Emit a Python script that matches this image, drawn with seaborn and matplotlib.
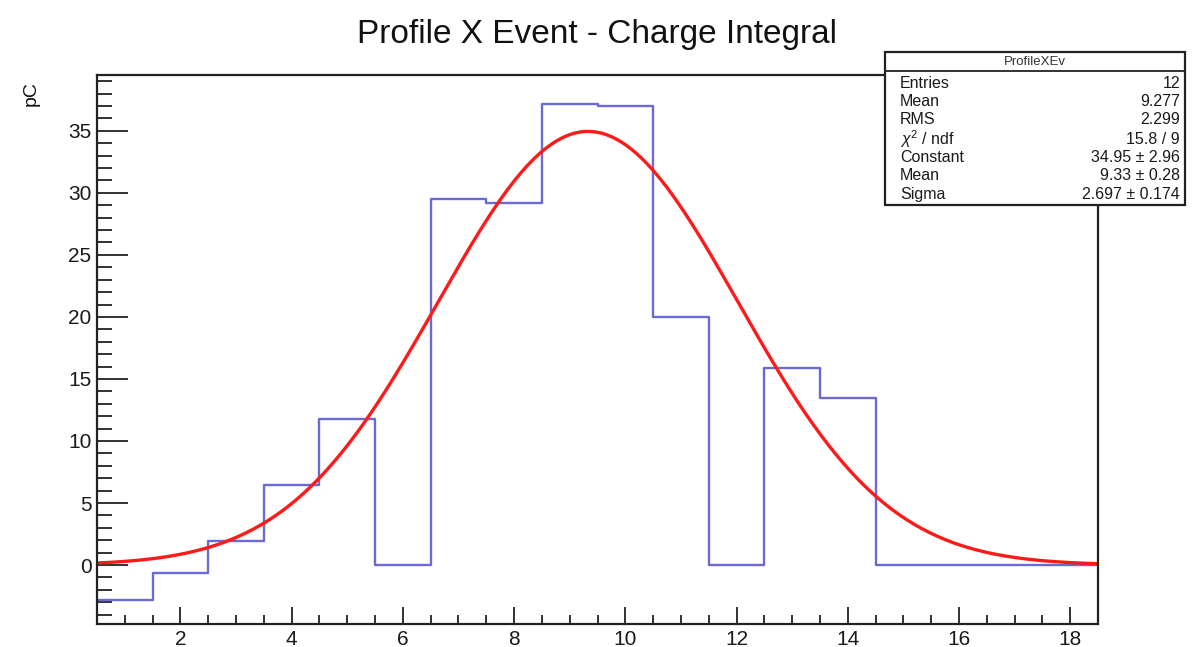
import numpy as np
import pandas as pd
import matplotlib
matplotlib.use("Agg")
import matplotlib.pyplot as plt
from matplotlib.ticker import MultipleLocator
from matplotlib.patches import Rectangle
import seaborn as sns

# ---- data ----
bin_centers = [1, 2, 3, 4, 5, 6, 7, 8, 9, 10, 11, 12, 13, 14, 15, 16, 17, 18]
bin_values = [-2.8, -0.65, 1.95, 6.45, 11.8, 0.0, 29.5, 29.2, 37.2, 37.0,
              20.0, 0.0, 15.9, 13.5, 0.0, 0.0, 0.0, 0.0]
bin_edges = [0.5 + i for i in range(19)]

fit_constant = 34.95
fit_mean = 9.33
fit_sigma = 2.697

title = "Profile X Event - Charge Integral"
y_label = "pC"
stats_title = "ProfileXEv"
stats_labels = ["Entries", "Mean", "RMS", r"$\chi^2$ / ndf", "Constant", "Mean", "Sigma"]
stats_values = ["12", "9.277", "2.299", "15.8 / 9", "34.95 \u00b1 2.96",
                "9.33 \u00b1 0.28", "2.697 \u00b1 0.174"]

sns.set_theme(style="white")
plt.rcParams["font.family"] = ["Liberation Sans", "DejaVu Sans"]
plt.rcParams["mathtext.fontset"] = "custom"
plt.rcParams["mathtext.rm"] = "Liberation Sans"
plt.rcParams["mathtext.it"] = "Liberation Sans:italic"

fig = plt.figure(figsize=(11.92, 6.47), dpi=100)
ax = fig.add_axes([97 / 1192, 23 / 647, (1098 - 97) / 1192, (624 - 75) / 647])

df = pd.DataFrame({"x": bin_centers, "w": bin_values})
sns.histplot(data=df, x="x", weights="w", bins=bin_edges, element="step",
             fill=False, color="#6a6ad2", linewidth=1.7, ax=ax)

xs = np.linspace(0.5, 18.5, 400)
fit_df = pd.DataFrame({"x": xs,
                       "y": fit_constant * np.exp(-0.5 * ((xs - fit_mean) / fit_sigma) ** 2)})
sns.lineplot(data=fit_df, x="x", y="y", color="#ff1a1a", linewidth=2.4, ax=ax)

ax.set_xlim(0.5, 18.5)
ax.set_ylim(-4.75, 39.5)
ax.set_xlabel("")
ax.set_ylabel("")
ax.xaxis.set_major_locator(MultipleLocator(2))
ax.xaxis.set_minor_locator(MultipleLocator(0.5))
ax.yaxis.set_major_locator(MultipleLocator(5))
ax.yaxis.set_minor_locator(MultipleLocator(1))
ax.tick_params(axis="both", which="both", direction="in", top=False, right=False,
               left=True, bottom=True, colors="#222222", labelsize=15, width=1.3)
ax.tick_params(axis="y", which="major", length=22, pad=4)
ax.tick_params(axis="y", which="minor", length=11)
ax.tick_params(axis="x", which="major", length=12.5, pad=4)
ax.tick_params(axis="x", which="minor", length=6.5)
for lbl in ax.get_xticklabels() + ax.get_yticklabels():
    lbl.set_color("#1a1a1a")
for s in ax.spines.values():
    s.set_color("#222222")
    s.set_linewidth(1.6)

fig.text(597 / 1192, 1 - 34 / 647, title, ha="center", va="center", fontsize=24,
         color="#111111")
fig.text(31 / 1192, 1 - 94 / 647, y_label, ha="center", va="center", rotation=90,
         fontsize=14, color="#111111")

# stats box
bx0, bx1, by0, by1 = 885, 1185, 52, 205
box = Rectangle((bx0 / 1192, 1 - by1 / 647), (bx1 - bx0) / 1192, (by1 - by0) / 647,
                transform=fig.transFigure, facecolor="white", edgecolor="#222222",
                linewidth=1.6, zorder=5)
fig.add_artist(box)
fig.add_artist(plt.Line2D([bx0 / 1192, bx1 / 1192], [1 - 71 / 647, 1 - 71 / 647],
                          transform=fig.transFigure, color="#222222", linewidth=1.3, zorder=6))
fig.text((bx0 + bx1) / 2 / 1192, 1 - 62 / 647, stats_title, ha="center", va="center",
         fontsize=9.5, zorder=7, color="#333333")
row_y = [83, 102, 120, 139, 158, 176, 195]
for lab, val, yy in zip(stats_labels, stats_values, row_y):
    fig.text(900 / 1192, 1 - yy / 647, lab, ha="left", va="center", fontsize=11.5,
             zorder=7, color="#1a1a1a")
    fig.text(1180 / 1192, 1 - yy / 647, val, ha="right", va="center", fontsize=11.5,
             zorder=7, color="#1a1a1a")

fig.savefig("out.png", dpi=100)
